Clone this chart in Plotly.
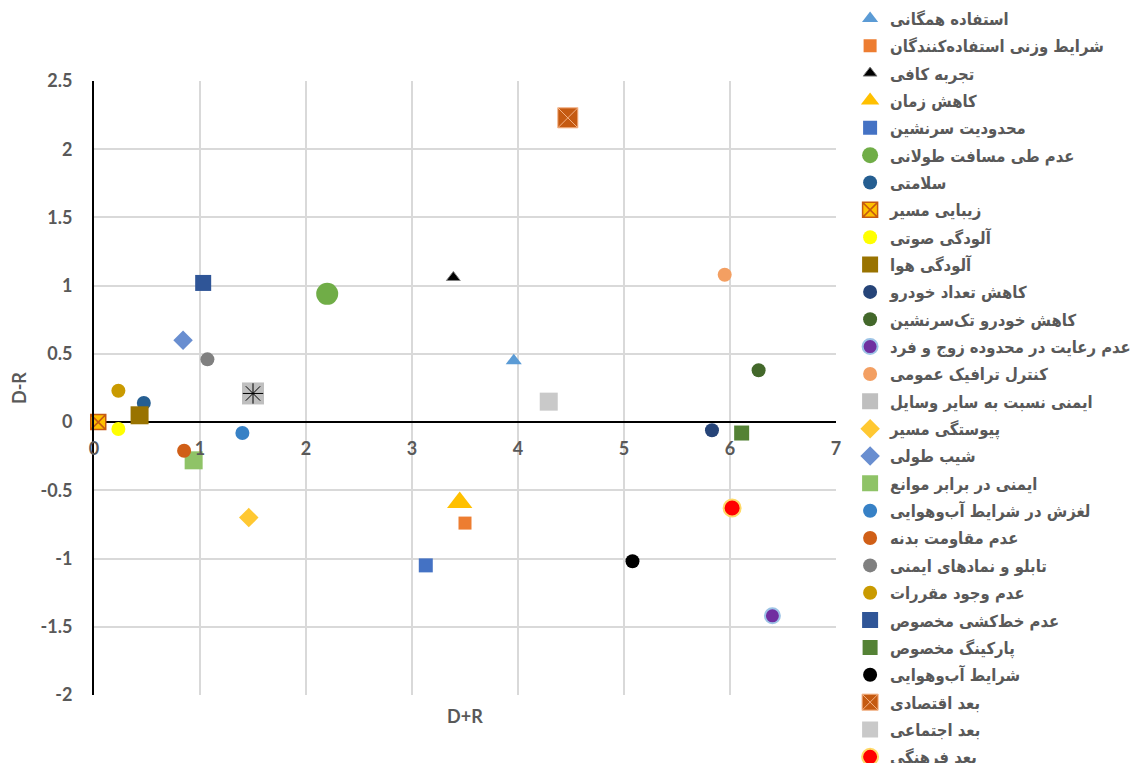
import plotly.graph_objects as go

names = [
    "استفاده همگانی",
    "شرایط وزنی استفاده‌کنندگان",
    "تجربه کافی",
    "کاهش زمان",
    "محدودیت سرنشین",
    "عدم طی مسافت طولانی",
    "سلامتی",
    "زیبایی مسیر",
    "آلودگی صوتی",
    "آلودگی هوا",
    "کاهش تعداد خودرو",
    "کاهش خودرو تک‌سرنشین",
    "عدم رعایت در محدوده زوج و فرد",
    "کنترل ترافیک عمومی",
    "ایمنی نسبت به سایر وسایل",
    "پیوستگی مسیر",
    "شیب طولی",
    "ایمنی در برابر موانع",
    "لغزش در شرایط آب‌وهوایی",
    "عدم مقاومت بدنه",
    "تابلو و نمادهای ایمنی",
    "عدم وجود مقررات",
    "عدم خط‌کشی مخصوص",
    "پارکینگ مخصوص",
    "شرایط آب‌وهوایی",
    "بعد اقتصادی",
    "بعد اجتماعی",
    "بعد فرهنگی",
]

d_plus_r = [3.96, 3.50, 3.39, 3.45, 3.13, 2.20, 0.47, 0.04, 0.23, 0.43,
            5.83, 6.27, 6.40, 5.95, 1.50, 1.46, 0.84, 0.94, 1.40, 0.85,
            1.07, 0.23, 1.03, 6.11, 5.08, 4.47, 4.29, 6.02]
d_minus_r = [0.45, -0.74, 1.06, -0.59, -1.05, 0.94, 0.14, 0.00, -0.05, 0.05,
             -0.06, 0.38, -1.42, 1.08, 0.21, -0.70, 0.60, -0.28, -0.08, -0.21,
             0.46, 0.23, 1.02, -0.08, -1.02, 2.23, 0.15, -0.63]

x_ticks = [0, 1, 2, 3, 4, 5, 6, 7]
y_ticks = [2.5, 2, 1.5, 1, 0.5, 0, -0.5, -1, -1.5, -2]
y_tick_text = ["2.5", "2", "1.5", "1", "0.5", "0", "-0.5", "-1", "-1.5", "-2"]

# styles: (symbol, size, color, line_color, line_width)
styles = [
    ("triangle-up", 14, "#5B9BD5", None, 0),
    ("square", 13, "#ED7D31", None, 0),
    ("triangle-up", 12, "#000000", "#808080", 1),
    ("triangle-up", 22, "#FFC000", None, 0),
    ("square", 14, "#4472C4", None, 0),
    ("circle", 22, "#70AD47", None, 0),
    ("circle", 14, "#255E91", None, 0),
    ("square-x", 15, "#FFC000", "#C55A11", 1.5),
    ("circle", 14, "#FFFF00", None, 0),
    ("square", 18, "#997300", None, 0),
    ("circle", 14, "#264478", None, 0),
    ("circle", 14, "#43682B", None, 0),
    ("circle", 15, "#7030A0", "#9DC3E6", 2),
    ("circle", 14, "#F39F62", None, 0),
    ("square", 22, "#BFBFBF", None, 0),
    ("diamond", 15, "#FFC832", None, 0),
    ("diamond", 15, "#698ED0", None, 0),
    ("square", 18, "#8FC367", None, 0),
    ("circle", 14, "#3781C6", None, 0),
    ("circle", 14, "#D05F17", None, 0),
    ("circle", 14, "#808080", None, 0),
    ("circle", 14, "#C99A00", None, 0),
    ("square", 16, "#2F5597", None, 0),
    ("square", 15, "#548235", None, 0),
    ("circle", 14, "#000000", None, 0),
    ("square-x", 20, "#C55A11", "#F4B183", 1),
    ("square", 18, "#C9C9C9", None, 0),
    ("circle", 17, "#FF0000", "#FFD966", 2),
]

fig = go.Figure()
for i, (nm, xv, yv, st) in enumerate(zip(names, d_plus_r, d_minus_r, styles)):
    sym, sz, col, lc, lw = st
    marker = dict(symbol=sym, size=sz, color=col,
                  line=dict(color=lc if lc else col, width=lw))
    fig.add_trace(go.Scatter(
        x=[xv], y=[yv], mode="markers", name=nm, marker=marker,
        legendgroup="g%d" % i, cliponaxis=False))
    if nm == "ایمنی نسبت به سایر وسایل":
        fig.add_trace(go.Scatter(
            x=[xv], y=[yv], mode="markers", showlegend=False,
            legendgroup="g%d" % i, cliponaxis=False,
            marker=dict(symbol="asterisk-open", size=17, color="#000000",
                        line=dict(color="#000000", width=1))))

# dummy trace for the crossing x axis (labels at y = 0)
fig.add_trace(go.Scatter(x=[None], y=[None], xaxis="x2", yaxis="y",
                         showlegend=False, hoverinfo="skip"))

tick_font = dict(family="Lato", size=18, color="#595959", weight="bold")

fig.update_layout(
    width=1135, height=755,
    paper_bgcolor="white", plot_bgcolor="white",
    margin=dict(l=86, r=307, t=73, b=68, autoexpand=False),
    xaxis=dict(range=[0, 7], tickvals=x_ticks, showticklabels=False,
               showgrid=True, gridcolor="#D9D9D9", gridwidth=1.5,
               zeroline=True, zerolinecolor="#000000", zerolinewidth=2,
               showline=False),
    xaxis2=dict(range=[0, 7], tickvals=x_ticks, overlaying="x", anchor="free",
                position=2 / 4.5, showgrid=False, zeroline=False,
                showline=False, ticks="", tickfont=tick_font,
                ticklabelstandoff=14),
    yaxis=dict(range=[-2, 2.5], tickvals=y_ticks, ticktext=y_tick_text,
               showgrid=True, gridcolor="#D9D9D9", gridwidth=1.5,
               zeroline=True, zerolinecolor="#000000", zerolinewidth=2,
               showline=True, linecolor="#000000", linewidth=2,
               ticks="", tickfont=tick_font, ticklabelstandoff=16),
    showlegend=True,
    legend=dict(x=1.019, xanchor="left", y=1.130, yanchor="top",
                font=dict(family="DejaVu Sans Condensed, DejaVu Sans", size=16.5,
                          color="#595959", weight="bold"),
                tracegroupgap=2.9, maxheight=2000, bgcolor="rgba(0,0,0,0)"),
    annotations=[
        dict(text="D+R", x=0.5, y=-0.034, xref="paper", yref="paper",
             xanchor="center", yanchor="middle", showarrow=False,
             font=dict(family="Lato", size=18, color="#595959", weight="bold")),
        dict(text="D-R", x=-0.101, y=0.5, xref="paper", yref="paper",
             xanchor="center", yanchor="middle", showarrow=False, textangle=-90,
             font=dict(family="Lato", size=18, color="#595959", weight="bold")),
    ],
)

fig.write_html("out.html")
